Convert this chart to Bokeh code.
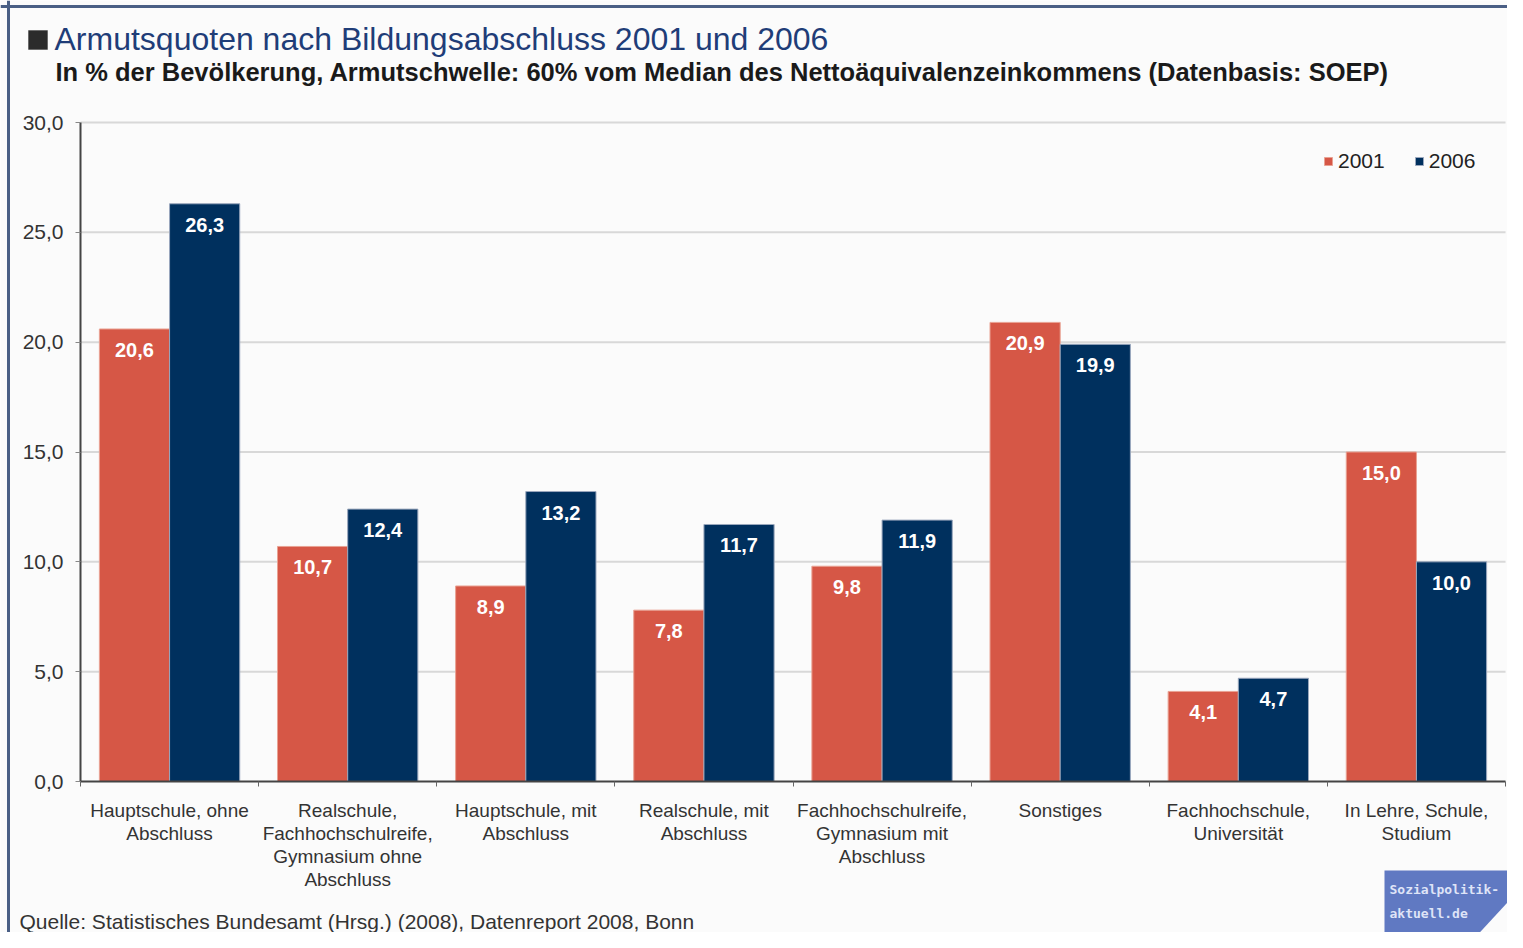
from bokeh.plotting import figure
from bokeh.models import (ColumnDataSource, FixedTicker, Range1d, Label, Legend, LegendItem,
                          PolyAnnotation, BoxAnnotation, LabelSet, Span)
from bokeh.core.properties import value
from bokeh.embed import file_html
from bokeh.resources import INLINE

categories = [
    "Hauptschule, ohne\nAbschluss",
    "Realschule,\nFachhochschulreife,\nGymnasium ohne\nAbschluss",
    "Hauptschule, mit\nAbschluss",
    "Realschule, mit\nAbschluss",
    "Fachhochschulreife,\nGymnasium mit\nAbschluss",
    "Sonstiges",
    "Fachhochschule,\nUniversität",
    "In Lehre, Schule,\nStudium",
]
values_2001 = [20.6, 10.7, 8.9, 7.8, 9.8, 20.9, 4.1, 15.0]
values_2006 = [26.3, 12.4, 13.2, 11.7, 11.9, 19.9, 4.7, 10.0]
series_names = ["2001", "2006"]
y_ticks = [0, 5, 10, 15, 20, 25, 30]
y_tick_labels = ["0,0", "5,0", "10,0", "15,0", "20,0", "25,0", "30,0"]

title_text = "Armutsquoten nach Bildungsabschluss 2001 und 2006"
subtitle_text = "In % der Bevölkerung, Armutschwelle: 60% vom Median des Nettoäquivalenzeinkommens (Datenbasis: SOEP)"
source_text = "Quelle: Statistisches Bundesamt (Hrsg.) (2008), Datenreport 2008, Bonn"
logo_lines = ["Sozialpolitik-", "aktuell.de"]

RED = "#d65746"
BLUE = "#00305e"
TEXT = "#333333"
FONT = "Liberation Sans"

# canvas layout (pixels)
W, H = 1507, 932
PX_LEFT, PX_RIGHT, PX_TOP, PX_BOTTOM = 80, 1505, 122, 781
Y_MAX = 30

n = len(categories)
ux = (PX_RIGHT - PX_LEFT) / n
uy = (PX_BOTTOM - PX_TOP) / Y_MAX
x_range = Range1d(-PX_LEFT / ux, n + (W - PX_RIGHT) / ux)
y_range = Range1d(-(H - PX_BOTTOM) / uy, Y_MAX + PX_TOP / uy)

centers = [i + 0.5 for i in range(n)]
off = 0.197
bw = 0.394

def fmt(v):
    return f"{v:.1f}".replace(".", ",")

src1 = ColumnDataSource(dict(x=[c - off for c in centers], top=values_2001,
                             lbl=[fmt(v) for v in values_2001]))
src2 = ColumnDataSource(dict(x=[c + off for c in centers], top=values_2006,
                             lbl=[fmt(v) for v in values_2006]))

p = figure(width=W, height=H, output_backend="svg", toolbar_location=None,
           x_range=x_range, y_range=y_range, min_border=0)
p.background_fill_color = "#fbfbfb"
p.border_fill_color = "#fbfbfb"
p.outline_line_color = None
p.xgrid.grid_line_color = None
p.ygrid.grid_line_color = None

# gridlines
grid_y = [t for t in y_ticks if t > 0]
p.segment(x0=[0] * len(grid_y), x1=[n] * len(grid_y), y0=grid_y, y1=grid_y,
          line_color="#d8d8d8", line_width=2, level="underlay")

r1 = p.vbar(x="x", top="top", width=bw, source=src1, fill_color=RED,
            line_color="#e9a293", line_width=1)
r2 = p.vbar(x="x", top="top", width=bw, source=src2, fill_color=BLUE,
            line_color="#9aa7bd", line_width=1)

for s in (src1, src2):
    p.add_layout(LabelSet(x="x", y="top", text="lbl", source=s, y_offset=-21,
                          text_align="center", text_baseline="middle", text_color="white",
                          text_font=value(FONT), text_font_size="20px", text_font_style="bold"))

# axes (fixed at the data origin)
xa = p.xaxis[0]
xa.fixed_location = 0
xa.bounds = (0, n)
xa.ticker = FixedTicker(ticks=centers, minor_ticks=list(range(0, n + 1)))
xa.major_label_overrides = {c: lab for c, lab in zip(centers, categories)}
xa.major_tick_line_color = None
xa.major_tick_out = 0
xa.major_tick_in = 0
xa.minor_tick_line_color = "#666666"
xa.minor_tick_out = 5
xa.minor_tick_in = 0
xa.axis_line_color = "#444444"
xa.axis_line_width = 2
xa.major_label_text_font = FONT
xa.major_label_text_font_size = "19px"
xa.major_label_text_color = TEXT
xa.major_label_text_line_height = 1.1
xa.major_label_standoff = 13

ya = p.yaxis[0]
ya.fixed_location = 0
ya.bounds = (0, Y_MAX)
ya.ticker = FixedTicker(ticks=y_ticks)
ya.major_label_overrides = {t: lab for t, lab in zip(y_ticks, y_tick_labels)}
ya.minor_tick_line_color = None
ya.major_tick_out = 5
ya.major_tick_in = 0
ya.major_tick_line_color = "#888888"
ya.axis_line_color = "#444444"
ya.axis_line_width = 2
ya.major_label_text_font = FONT
ya.major_label_text_font_size = "21px"
ya.major_label_text_color = TEXT
ya.major_label_standoff = 12

legend = Legend(items=[LegendItem(label=series_names[0], renderers=[r1]),
                       LegendItem(label=series_names[1], renderers=[r2])],
                location=(1323, H - 173), orientation="horizontal",
                glyph_width=10, glyph_height=10, label_standoff=5, spacing=29,
                margin=0, padding=6, label_text_font=FONT, label_text_font_size="21px",
                label_text_color="#222222", background_fill_alpha=0, border_line_color=None)
p.add_layout(legend)

# frame border lines
p.add_layout(Span(location=8, location_units="screen", dimension="height",
                  line_color="#4a5f85", line_width=3))
p.add_layout(Span(location=H - 6, location_units="screen", dimension="width",
                  line_color="#4a5f85", line_width=3))

# title block
p.add_layout(BoxAnnotation(left=28, right=47, top=H - 30, bottom=H - 49,
                           left_units="screen", right_units="screen", top_units="screen",
                           bottom_units="screen", fill_color="#2b2b2b", fill_alpha=1,
                           line_color="#111111", line_width=1))
p.add_layout(Label(x=54, y=H - 38, x_units="screen", y_units="screen", text=title_text,
                   text_font=FONT, text_font_size="32px", text_color="#1f3d78",
                   text_baseline="middle", text_align="left"))
p.add_layout(Label(x=55, y=H - 71, x_units="screen", y_units="screen", text=subtitle_text,
                   text_font=FONT, text_font_size="25.5px", text_font_style="bold",
                   text_color="#1a1a1a", text_baseline="middle", text_align="left"))
p.add_layout(Label(x=19, y=H - 921, x_units="screen", y_units="screen", text=source_text,
                   text_font=FONT, text_font_size="21px", text_color=TEXT,
                   text_baseline="middle", text_align="left"))

# logo
p.add_layout(PolyAnnotation(xs=[1384, 1507, 1507, 1470, 1384],
                            ys=[H - 870, H - 870, H - 902, H - 942, H - 942],
                            xs_units="screen", ys_units="screen",
                            fill_color="#6079c2", fill_alpha=1, line_color=None))
for i, line in enumerate(logo_lines):
    p.add_layout(Label(x=1389, y=H - 889 - 24 * i, x_units="screen", y_units="screen",
                       text=line, text_font="DejaVu Sans Mono", text_font_size="13px",
                       text_font_style="bold", text_color="#dfe4f7",
                       text_baseline="middle", text_align="left"))

open("out.html", "w").write(file_html(p, INLINE))
